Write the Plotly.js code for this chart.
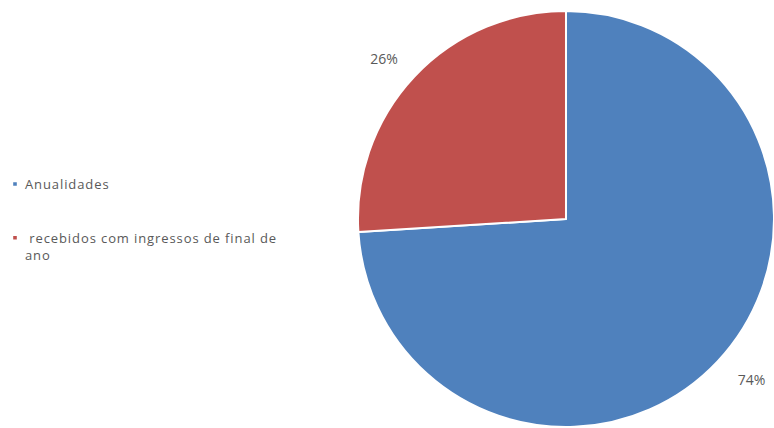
<!DOCTYPE html>
<html>
<head>
<meta charset="utf-8">
<script src="https://cdn.plot.ly/plotly-3.0.1.min.js"></script>
<style>
html, body { margin: 0; padding: 0; overflow: hidden; background: #fff; }
#chart { width: 774px; height: 428px; }
.legend .scrollbox { clip-path: none !important; }
.legend .legendpoints path { d: path("M2.8,2.8H-2.8V-2.8H2.8Z"); transform: translate(15px, 0px); }
.legend .legendtext { letter-spacing: 0.9px; transform: translate(-15px, 0px); }
</style>
</head>
<body>
<div id="chart"></div>
<script>
const NB = "\u00a0";
const labels = ["Anualidades<br>" + NB + "<br>" + NB, NB + "recebidos com ingressos de final de<br>ano"];
const values = [74, 26];
const colors = ["#4F81BD", "#C0504D"];
const labelTemplates = [
  NB + "<br>" + NB.repeat(3) + "%{percent:.0%}",
  "%{percent:.0%}" + NB.repeat(2) + "<br>" + NB
];

const data = [{
  type: "pie",
  labels: labels,
  values: values,
  sort: false,
  direction: "clockwise",
  rotation: 0,
  marker: { colors: colors, line: { color: "#ffffff", width: 2 } },
  textinfo: "percent",
  texttemplate: labelTemplates,
  textposition: "outside",
  outsidetextfont: { color: "#595959", size: 14, family: "Open Sans, Liberation Sans, sans-serif" },
  domain: { x: [0.4625, 1], y: [0.0023, 0.9743] },
  hoverinfo: "percent"
}];

const layout = {
  width: 774,
  height: 428,
  margin: { l: 0, r: 0, t: 0, b: 0, autoexpand: false },
  paper_bgcolor: "#ffffff",
  plot_bgcolor: "#ffffff",
  showlegend: true,
  font: { family: "Open Sans, Liberation Sans, sans-serif", size: 13, color: "#595959" },
  legend: {
    x: 0, xanchor: "left",
    y: 0.605, yanchor: "top",
    valign: "top",
    bgcolor: "rgba(0,0,0,0)",
    font: { size: 13, color: "#595959" },
    tracegroupgap: 0
  }
};

Plotly.newPlot("chart", data, layout, { displayModeBar: false, staticPlot: true });
</script>
</body>
</html>
